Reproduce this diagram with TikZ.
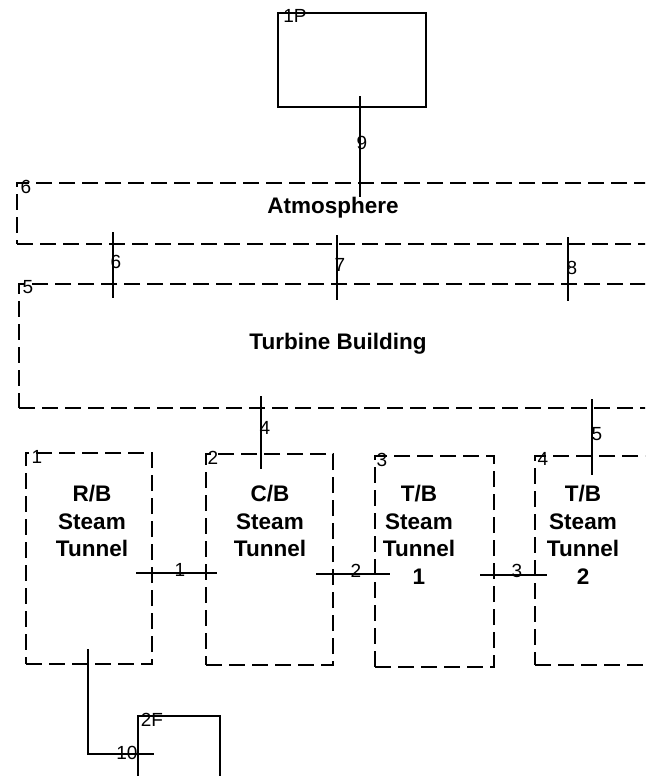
\documentclass[tikz,border=0pt]{standalone}
\usepackage{fontspec}
\setmainfont{Liberation Sans}
\usetikzlibrary{positioning}
\tikzset{
  zone/.style={draw, dash pattern=on 16pt off 7pt, line width=2pt, inner sep=0pt, anchor=north west},
  vol/.style={draw, line width=2pt, inner sep=0pt, anchor=north west},
  tag/.style={font=\fontsize{19}{19}\selectfont, inner sep=0pt},
  title/.style={font=\bfseries\fontsize{22.5}{27.5}\selectfont, align=center, inner sep=0pt},
  link/.style={line width=2pt}
}

\begin{document}
\begin{tikzpicture}[x=1pt,y=-1pt]
\useasboundingbox (0,0) rectangle (645,776);
\clip (0,0) rectangle (645,776);
% solid volumes
\node[vol, minimum width=148pt, minimum height=94pt] (p1) at (277,12) {};
\node[vol, minimum width=82pt, minimum height=90pt] (f2) at (137,715) {};
\node[tag] (p1tag) at (295,16) {1P};
\node[tag] (f2tag) at (152,720) {2F};
%
% dashed volumes
\node[zone, minimum width=700pt, minimum height=61pt] (atm) at (16,182) {};
\node[zone, minimum width=700pt, minimum height=124pt] (tb) at (18,283) {};
\node[zone, minimum width=126pt, minimum height=211pt] (st1) at (25,452) {};
\node[zone, minimum width=127pt, minimum height=211pt] (st2) at (205,453) {};
\node[zone, minimum width=119pt, minimum height=211pt] (st3) at (374,455) {};
\node[zone, minimum width=200pt, minimum height=209pt] (st4) at (534,455) {};
\node[tag] (atmtag) at (26,187) {6};
\node[tag] (tbtag) at (28,287) {5};
\node[tag] (st1tag) at (37,457) {1};
\node[tag] (st2tag) at (213,458) {2};
\node[tag] (st3tag) at (382,460) {3};
\node[tag] (st4tag) at (543,459) {4};
%
\node[title] (atmtxt) at (333,208) {Atmosphere};
\node[title] (tbtxt) at (338,344) {Turbine Building};
\node[title, anchor=north] (st1txt) at (92,485) {R/B\\Steam\\Tunnel};
\node[title, anchor=north] (st2txt) at (270,485) {C/B\\Steam\\Tunnel};
\node[title, anchor=north] (st3txt) at (419,485) {T/B\\Steam\\Tunnel\\1};
\node[title, anchor=north] (st4txt) at (583,485) {T/B\\Steam\\Tunnel\\2};
%
% flow paths
\coordinate (j9a) at (360,96);   \coordinate (j9b) at (360,197);
\coordinate (j6a) at (113,232);  \coordinate (j6b) at (113,298);
\coordinate (j7a) at (337,235);  \coordinate (j7b) at (337,300);
\coordinate (j8a) at (568,237);  \coordinate (j8b) at (568,301);
\coordinate (j4a) at (261,396);  \coordinate (j4b) at (261,469);
\coordinate (j5a) at (592,399);  \coordinate (j5b) at (592,475);
\coordinate (j1a) at (136,573);  \coordinate (j1b) at (217,573);
\coordinate (j2a) at (316,574);  \coordinate (j2b) at (390,574);
\coordinate (j3a) at (480,575);  \coordinate (j3b) at (547,575);
\coordinate (j10a) at (88,649);  \coordinate (j10b) at (154,754);
\draw[link] (j9a) -- (j9b);
\draw[link] (j6a) -- (j6b);
\draw[link] (j7a) -- (j7b);
\draw[link] (j8a) -- (j8b);
\draw[link] (j4a) -- (j4b);
\draw[link] (j5a) -- (j5b);
\draw[link] (j1a) -- (j1b);
\draw[link] (j2a) -- (j2b);
\draw[link] (j3a) -- (j3b);
\draw[link] (j10a) |- (j10b);
\node[tag] (l9) at (362,143) {9};
\node[tag] (l6) at (116,262) {6};
\node[tag] (l7) at (340,265) {7};
\node[tag] (l8) at (572,268) {8};
\node[tag] (l4) at (265,428) {4};
\node[tag] (l5) at (597,434) {5};
\node[tag] (l1) at (180,570) {1};
\node[tag] (l2) at (356,571) {2};
\node[tag] (l3) at (517,571) {3};
\node[tag] (l10) at (127,753) {10};
\end{tikzpicture}
\end{document}
